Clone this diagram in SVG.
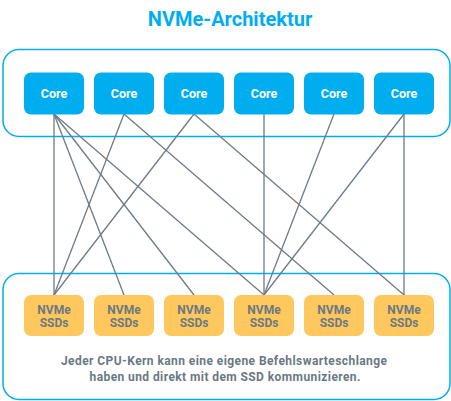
<svg xmlns="http://www.w3.org/2000/svg" width="451" height="401" viewBox="0 0 451 401">
<style>
.container{fill:#fff;stroke:#00AEEF;stroke-width:1.5}
.core rect{fill:#00AEEF}
.core text{fill:#fff;font-family:Roboto,"Liberation Sans",sans-serif;font-weight:bold;font-size:12.5px;text-anchor:middle}
.ssd rect{fill:#FEC85E}
.ssd text{fill:#6B7882;font-family:Roboto,"Liberation Sans",sans-serif;font-weight:bold;font-size:12px;text-anchor:middle}
.conn line{stroke:#6E7B85;stroke-width:1.3}
.title{fill:#00AEEF;font-family:Roboto,"Liberation Sans",sans-serif;font-weight:bold;font-size:20px;text-anchor:middle}
.caption{fill:#6B7882;font-family:Roboto,"Liberation Sans",sans-serif;font-weight:bold;font-size:12px;text-anchor:middle}
</style>
<rect width="451" height="401" fill="#fff"/>
<text class="title" x="230" y="26">NVMe-Architektur</text>
<rect id="cpu-container" class="container" x="3" y="49.5" width="447" height="87" rx="16"/>
<rect id="ssd-container" class="container" x="3" y="273.5" width="447" height="126" rx="16"/>
<g id="connectors" class="conn">
<line x1="54" y1="114" x2="54" y2="295"/>
<line x1="54" y1="114" x2="124" y2="295"/>
<line x1="54" y1="114" x2="194" y2="295"/>
<line x1="54" y1="114" x2="264" y2="295"/>
<line x1="124" y1="114" x2="54" y2="295"/>
<line x1="124" y1="114" x2="334" y2="295"/>
<line x1="194" y1="114" x2="54" y2="295"/>
<line x1="194" y1="114" x2="404" y2="295"/>
<line x1="264" y1="114" x2="264" y2="295"/>
<line x1="334" y1="114" x2="264" y2="295"/>
<line x1="404" y1="114" x2="264" y2="295"/>
<line x1="404" y1="114" x2="404" y2="295"/>
</g>
<g id="core1" class="core"><rect x="24" y="72.5" width="60" height="42" rx="7"/><text x="54" y="97.5">Core</text></g>
<g id="core2" class="core"><rect x="94" y="72.5" width="60" height="42" rx="7"/><text x="124" y="97.5">Core</text></g>
<g id="core3" class="core"><rect x="164" y="72.5" width="60" height="42" rx="7"/><text x="194" y="97.5">Core</text></g>
<g id="core4" class="core"><rect x="234" y="72.5" width="60" height="42" rx="7"/><text x="264" y="97.5">Core</text></g>
<g id="core5" class="core"><rect x="304" y="72.5" width="60" height="42" rx="7"/><text x="334" y="97.5">Core</text></g>
<g id="core6" class="core"><rect x="374" y="72.5" width="60" height="42" rx="7"/><text x="404" y="97.5">Core</text></g>
<g id="ssd1" class="ssd"><rect x="24" y="295" width="60" height="41" rx="7"/><text x="54" y="314">NVMe</text><text x="54" y="327">SSDs</text></g>
<g id="ssd2" class="ssd"><rect x="94" y="295" width="60" height="41" rx="7"/><text x="124" y="314">NVMe</text><text x="124" y="327">SSDs</text></g>
<g id="ssd3" class="ssd"><rect x="164" y="295" width="60" height="41" rx="7"/><text x="194" y="314">NVMe</text><text x="194" y="327">SSDs</text></g>
<g id="ssd4" class="ssd"><rect x="234" y="295" width="60" height="41" rx="7"/><text x="264" y="314">NVMe</text><text x="264" y="327">SSDs</text></g>
<g id="ssd5" class="ssd"><rect x="304" y="295" width="60" height="41" rx="7"/><text x="334" y="314">NVMe</text><text x="334" y="327">SSDs</text></g>
<g id="ssd6" class="ssd"><rect x="374" y="295" width="60" height="41" rx="7"/><text x="404" y="314">NVMe</text><text x="404" y="327">SSDs</text></g>
<text class="caption" x="224" y="365" textLength="326" lengthAdjust="spacing">Jeder CPU-Kern kann eine eigene Befehlswarteschlange</text>
<text class="caption" x="225" y="381" textLength="271" lengthAdjust="spacing">haben und direkt mit dem SSD kommunizieren.</text>
</svg>
